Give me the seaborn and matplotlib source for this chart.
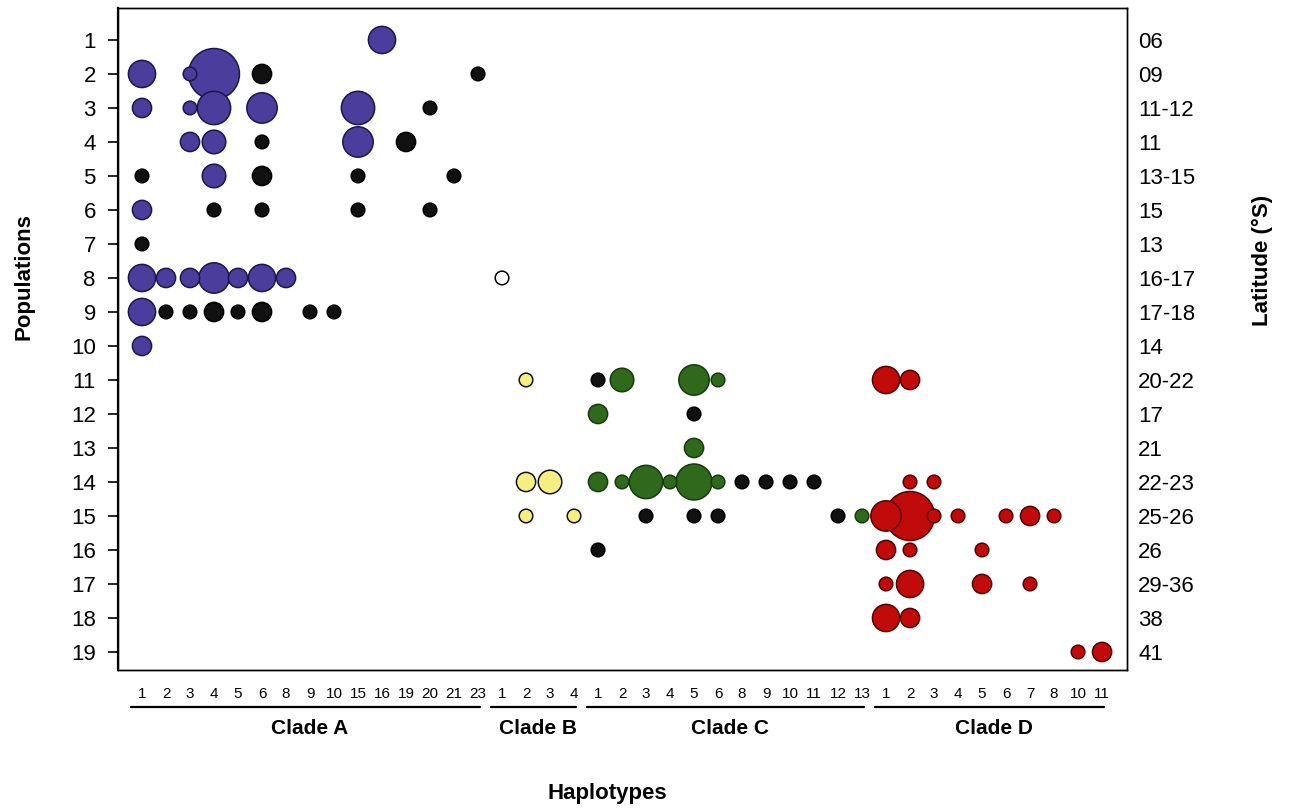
import numpy as np
import pandas as pd
import matplotlib
matplotlib.use("Agg")
import matplotlib.pyplot as plt
import seaborn as sns
from matplotlib.transforms import blended_transform_factory

# ---------------- data ----------------
populations = list(range(1, 20))
latitudes = ['06', '09', '11-12', '11', '13-15', '15', '13', '16-17', '17-18', '14',
             '20-22', '17', '21', '22-23', '25-26', '26', '29-36', '38', '41']

clade_names = ['Clade A', 'Clade B', 'Clade C', 'Clade D']
clade_A_haps = ['1', '2', '3', '4', '5', '6', '8', '9', '10', '15', '16', '19', '20', '21', '23']
clade_B_haps = ['1', '2', '3', '4']
clade_C_haps = ['1', '2', '3', '4', '5', '6', '8', '9', '10', '11', '12', '13']
clade_D_haps = ['1', '2', '3', '4', '5', '6', '7', '8', '10', '11']

# each bubble: population, clade, haplotype, frequency (n), colour group
bub_pop = [1,
           2, 2, 2, 2, 2,
           3, 3, 3, 3, 3, 3,
           4, 4, 4, 4, 4,
           5, 5, 5, 5, 5,
           6, 6, 6, 6, 6,
           7,
           8, 8, 8, 8, 8, 8, 8, 8,
           9, 9, 9, 9, 9, 9, 9, 9,
           10,
           11, 11, 11, 11, 11, 11, 11,
           12, 12,
           13,
           14, 14, 14, 14, 14, 14, 14, 14, 14, 14, 14, 14, 14, 14,
           15, 15, 15, 15, 15, 15, 15, 15, 15, 15, 15, 15, 15, 15,
           16, 16, 16, 16,
           17, 17, 17, 17,
           18, 18,
           19, 19]
bub_clade = ['A',
             'A', 'A', 'A', 'A', 'A',
             'A', 'A', 'A', 'A', 'A', 'A',
             'A', 'A', 'A', 'A', 'A',
             'A', 'A', 'A', 'A', 'A',
             'A', 'A', 'A', 'A', 'A',
             'A',
             'A', 'A', 'A', 'A', 'A', 'A', 'A', 'B',
             'A', 'A', 'A', 'A', 'A', 'A', 'A', 'A',
             'A',
             'B', 'C', 'C', 'C', 'C', 'D', 'D',
             'C', 'C',
             'C',
             'B', 'B', 'C', 'C', 'C', 'C', 'C', 'C', 'C', 'C', 'C', 'C', 'D', 'D',
             'B', 'B', 'C', 'C', 'C', 'C', 'C', 'D', 'D', 'D', 'D', 'D', 'D', 'D',
             'C', 'D', 'D', 'D',
             'D', 'D', 'D', 'D',
             'D', 'D',
             'D', 'D']
bub_hap = ['16',
           '1', '3', '4', '6', '23',
           '1', '3', '4', '6', '15', '20',
           '3', '4', '6', '15', '19',
           '1', '4', '6', '15', '21',
           '1', '4', '6', '15', '20',
           '1',
           '1', '2', '3', '4', '5', '6', '8', '1',
           '1', '2', '3', '4', '5', '6', '9', '10',
           '1',
           '2', '1', '2', '5', '6', '1', '2',
           '1', '5',
           '5',
           '2', '3', '1', '2', '3', '4', '5', '6', '8', '9', '10', '11', '2', '3',
           '2', '4', '3', '5', '6', '12', '13', '1', '2', '3', '4', '6', '7', '8',
           '1', '1', '2', '5',
           '1', '2', '5', '7',
           '1', '2',
           '10', '11']
bub_n = [4,
         4, 1, 14, 2, 1,
         2, 1, 6, 5, 6, 1,
         2, 3, 1, 5, 2,
         1, 3, 2, 1, 1,
         2, 1, 1, 1, 1,
         1,
         4, 2, 2, 5, 2, 4, 2, 1,
         4, 1, 1, 2, 1, 2, 1, 1,
         2,
         1, 1, 3, 5, 1, 4, 2,
         2, 1,
         2,
         2, 3, 2, 1, 6, 1, 7, 1, 1, 1, 1, 1, 1, 1,
         1, 1, 1, 1, 1, 1, 1, 5, 13, 1, 1, 1, 2, 1,
         1, 2, 1, 1,
         1, 4, 2, 1,
         4, 2,
         1, 2]
bub_kind = ['A',
            'A', 'A', 'A', 'shared', 'shared',
            'A', 'A', 'A', 'A', 'A', 'shared',
            'A', 'A', 'shared', 'A', 'shared',
            'shared', 'A', 'shared', 'shared', 'shared',
            'A', 'shared', 'shared', 'shared', 'shared',
            'shared',
            'A', 'A', 'A', 'A', 'A', 'A', 'A', 'open',
            'A', 'shared', 'shared', 'shared', 'shared', 'shared', 'shared', 'shared',
            'A',
            'B', 'shared', 'C', 'C', 'C', 'D', 'D',
            'C', 'shared',
            'C',
            'B', 'B', 'C', 'C', 'C', 'C', 'C', 'C', 'shared', 'shared', 'shared', 'shared', 'D', 'D',
            'B', 'B', 'shared', 'shared', 'shared', 'shared', 'C', 'D', 'D', 'D', 'D', 'D', 'D', 'D',
            'shared', 'D', 'D', 'D',
            'D', 'D', 'D', 'D',
            'D', 'D',
            'D', 'D']

# ---------------- styling ----------------
face_colors = {'A': '#4a3d9c', 'B': '#f6ef80', 'C': '#2f6a1c', 'D': '#c10b0b',
               'shared': '#111111', 'open': '#ffffff'}
edge_colors = {'A': '#1d1550', 'B': '#111111', 'C': '#163a0b', 'D': '#560000',
               'shared': '#000000', 'open': '#000000'}

sns.set_theme(style='white')
plt.rcParams['font.family'] = ['Liberation Sans', 'DejaVu Sans']

# haplotype column order
clade_haps = {'A': clade_A_haps, 'B': clade_B_haps, 'C': clade_C_haps, 'D': clade_D_haps}
columns = [(c, h) for c in 'ABCD' for h in clade_haps[c]]
col_index = {key: i for i, key in enumerate(columns)}

df = pd.DataFrame({'pop': bub_pop, 'clade': bub_clade, 'hap': bub_hap,
                   'n': bub_n, 'kind': bub_kind})
df['x'] = [col_index[(c, h)] for c, h in zip(df['clade'], df['hap'])]
df = df.sort_values('n', ascending=False, kind='stable').reset_index(drop=True)

W, H = 1289, 811
fig = plt.figure(figsize=(W / 100, H / 100), dpi=100)
ax = fig.add_axes([118 / W, 1 - 670 / H, (1127 - 118) / W, (670 - 8) / H])

r1 = 6.8  # radius in px of a single-count bubble
s1 = (2 * r1 * 0.72) ** 2
nmax = max(bub_n)
sns.scatterplot(data=df, x='x', y='pop', hue='kind', palette=face_colors,
                size='n', sizes=(s1, s1 * nmax), size_norm=(1, nmax),
                legend=False, ax=ax, linewidth=1.1, zorder=3)
ax.collections[-1].set_edgecolors(df['kind'].map(edge_colors).tolist())

ax.set_xlim(-1, 41.04)
ax.set_ylim(19.53, 0.06)
ax.set_xlabel('')
ax.set_ylabel('')

ax.set_yticks(populations)
ax.set_yticklabels([str(p) for p in populations])
ax.tick_params(axis='y', left=True, length=7, width=1.2, direction='out',
               pad=9, labelsize=16, colors='black')
ax.set_xticks(range(len(columns)))
ax.set_xticklabels([h for _, h in columns])
ax.tick_params(axis='x', bottom=False, length=0, pad=12, labelsize=11, colors='black')

for sp in ax.spines.values():
    sp.set_color('black')
    sp.set_linewidth(1.0)
ax.spines['left'].set_linewidth(1.6)

ax2 = ax.twinx()
ax2.set_ylim(ax.get_ylim())
ax2.set_yticks(populations)
ax2.set_yticklabels(latitudes)
ax2.tick_params(axis='y', right=False, length=0, pad=8, labelsize=16, colors='black')
ax2.grid(False)
for sp in ax2.spines.values():
    sp.set_color('black')
    sp.set_linewidth(1.0)

# clade underlines and names
trans = blended_transform_factory(ax.transData, ax.transAxes)
for name, c in zip(clade_names, 'ABCD'):
    first = col_index[(c, clade_haps[c][0])]
    last = col_index[(c, clade_haps[c][-1])]
    ax.plot([first - 0.45, last + 0.1], [-0.056, -0.056], transform=trans,
            clip_on=False, color='black', lw=1.6)
    ax.text((first + last) / 2, -0.088, name, transform=trans, ha='center', va='center',
            fontsize=15, fontweight='bold', color='black')

fig.text(24 / W, 1 - 277 / H, 'Populations', rotation=90, ha='center', va='center',
         fontsize=16, fontweight='bold', color='black')
fig.text(1262 / W, 1 - 260 / H, 'Latitude (°S)', rotation=90, ha='center', va='center',
         fontsize=16, fontweight='bold', color='black')
fig.text(607 / W, 1 - 793 / H, 'Haplotypes', ha='center', va='center',
         fontsize=16, fontweight='bold', color='black')

fig.savefig('out.png', dpi=100, facecolor='white')
